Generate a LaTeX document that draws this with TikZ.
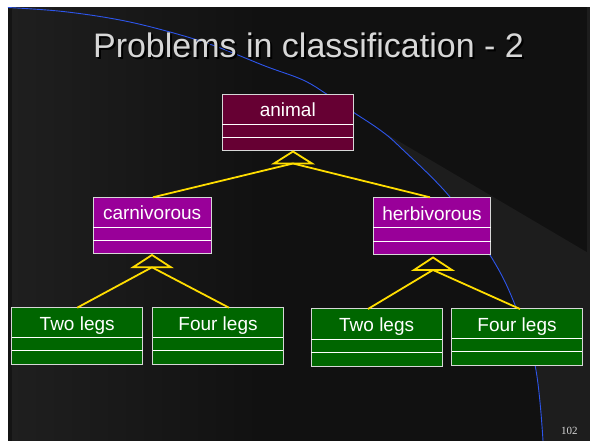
\documentclass[tikz,border=0pt]{standalone}
\usepackage{fontspec}
\setmainfont{Liberation Sans}
\newfontfamily\serifnum{Liberation Serif}
\definecolor{maroonbox}{RGB}{102,0,51}
\definecolor{purplebox}{RGB}{153,0,153}
\definecolor{greenbox}{RGB}{0,102,0}
\definecolor{umlyellow}{RGB}{255,221,0}
\definecolor{arcblue}{RGB}{45,85,235}
\definecolor{edgegray}{RGB}{215,215,215}
\definecolor{bgleft}{RGB}{31,31,31}
\definecolor{bgdark}{RGB}{17,17,17}
\definecolor{bglight}{RGB}{29,29,29}
\definecolor{titlegray}{RGB}{215,215,215}
% name, left, right, top, div1, div2, bottom, fill, text
\newcommand\umlclass[9]{%
  \node[classbox, fill=#8, minimum width={#3pt-#2pt}, minimum height={#7pt-#4pt}, anchor=north west] (#1) at (#2,#4) {};
  \draw[divider] (#1.west |- 0,#5) -- (#1.east |- 0,#5);
  \draw[divider] (#1.west |- 0,#6) -- (#1.east |- 0,#6);
  \node[classtext, anchor=base] (#1-label) at ({(#2+#3)/2}, {(#4+#5)/2+7.6}) {#9};
}
\newcommand\shadowtext[1]{\makebox[0pt][l]{\hspace{2pt}\raisebox{-2pt}{\textcolor{black}{#1}}}#1}
\begin{document}
\begin{tikzpicture}[x=1pt,y=-1pt,
  classbox/.style={draw=edgegray, line width=1pt, inner sep=0pt, outer sep=0pt},
  divider/.style={draw=white, line width=0.9pt},
  classtext/.style={text=white, font=\fontsize{19}{19}\selectfont, inner sep=0pt},
  umlline/.style={draw=umlyellow, line width=1.8pt},
  genhead/.style={draw=umlyellow, line width=1.8pt, line join=miter},
]
\useasboundingbox (0,0) rectangle (590,441);
% slide background
\fill[white] (0,0) rectangle (590,441);
\shade[left color=bgleft, right color=bgdark] (8.3,7.5) rectangle (260,441);
\fill[bgdark] (260,7.5) rectangle (590,441);
\fill[bglight] (383,132) -- (590,254) -- (590,441) -- plot[smooth, tension=0.6] coordinates {(543,441) (535,365) (513,300) (490,255) (450,197) (400,147) (383,132)} -- cycle;
\fill[bglight] (587,7.5) rectangle (590,254);
\fill[black!92] (8.3,7.5) rectangle (12,441);
\draw[arcblue, line width=0.9pt] plot[smooth, tension=0.6] coordinates {(8,7.5) (63,11.5) (120,20) (170,32) (215,46) (265,66) (303,80) (328,95) (353,112) (380,130) (400,147) (450,197) (490,255) (513,300) (535,365) (543,441)};
% title
\node[anchor=base, inner sep=0pt, text=titlegray, font=\fontsize{34}{34}\selectfont] (title) at (308.5,57.5) {\shadowtext{Problems in classification - 2}};
% page number
\node[anchor=base east, inner sep=0pt, text=titlegray, font=\serifnum\fontsize{11}{11}\selectfont] (pagenum) at (577.7,434) {102};
% classes
\umlclass{animal}{222.3}{353.3}{94.3}{124}{137.3}{151}{maroonbox}{animal}
\umlclass{carn}{93.3}{211}{197.3}{227.3}{240.7}{254}{purplebox}{carnivorous}
\umlclass{herb}{373.3}{490.7}{197.3}{227.7}{241}{254.3}{purplebox}{herbivorous}
\umlclass{twoA}{11.7}{142.7}{307.7}{337.3}{350.7}{364}{greenbox}{Two legs}
\umlclass{fourA}{152.7}{283.3}{307.7}{337.3}{350.7}{364}{greenbox}{Four legs}
\umlclass{twoB}{311}{442.3}{309}{339}{352.3}{366}{greenbox}{Two legs}
\umlclass{fourB}{451.7}{582.3}{309}{338.3}{351.7}{365}{greenbox}{Four legs}
% generalization heads
\coordinate (genA) at (293,163.5);
\coordinate (genB) at (152,267.3);
\coordinate (genC) at (433,270);
\draw[genhead] (293,151.5) -- (274,163.5) -- (312,163.5) -- cycle;
\draw[genhead] (152,255) -- (133,267.3) -- (171,267.3) -- cycle;
\draw[genhead] (433,257.5) -- (414,270) -- (452,270) -- cycle;
% connectors
\draw[umlline] (genA) -- ([xshift=0.8pt]carn.north);
\draw[umlline] (genA) -- ([xshift=-2pt]herb.north);
\draw[umlline] (genB) -- (twoA.north);
\draw[umlline] (genB) -- ([xshift=11pt]fourA.north);
\draw[umlline] (genC) -- ([xshift=-8.7pt]twoB.north);
\draw[umlline] (genC) -- ([xshift=3pt]fourB.north);
\end{tikzpicture}
\end{document}
